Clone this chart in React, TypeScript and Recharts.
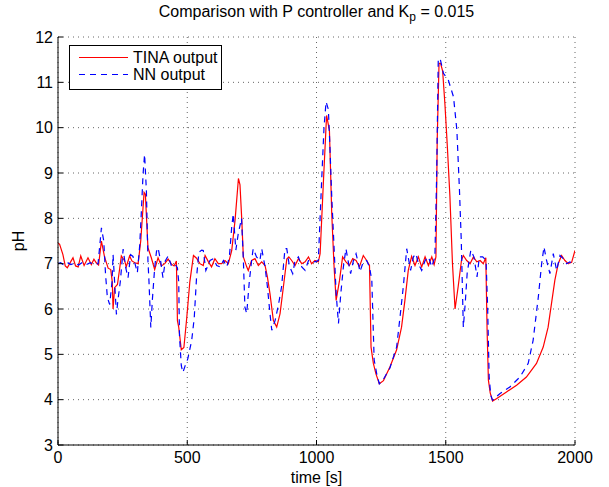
import React from "react";
import {
  CartesianGrid,
  Line,
  LineChart,
  XAxis,
  YAxis,
} from "recharts";

// TINA output (red, solid)
const tinaTime = [
  0, 6, 19, 28, 36, 45, 58, 68, 78, 88, 101, 116, 129, 139, 148, 157, 168, 180,
  194, 204, 210, 213, 219, 230, 239, 245, 258, 264, 277, 286, 297, 310, 320, 333,
  338, 348, 361, 374, 387, 400, 413, 426, 439, 449, 458, 462, 467, 477, 487, 498,
  510, 524, 536, 549, 562, 569, 582, 594, 607, 620, 633, 646, 659, 672, 685, 698,
  704, 711, 717, 730, 736, 749, 762, 775, 788, 801, 810, 820, 833, 846, 859, 872,
  885, 893, 904, 917, 930, 943, 956, 969, 981, 994, 1007, 1014, 1027, 1039, 1050,
  1059, 1068, 1076, 1089, 1101, 1114, 1127, 1140, 1153, 1166, 1181, 1194, 1205,
  1211, 1220, 1230, 1243, 1259, 1284, 1310, 1329, 1342, 1355, 1368, 1381, 1394,
  1407, 1420, 1433, 1446, 1455, 1462, 1467, 1474, 1480, 1488, 1497, 1506, 1516,
  1526, 1536, 1548, 1561, 1568, 1581, 1594, 1607, 1620, 1633, 1645, 1655, 1660,
  1665, 1672, 1681, 1696, 1735, 1774, 1812, 1851, 1877, 1896, 1909, 1922, 1935,
  1948, 1961, 1974, 1987, 2000,
];
const tinaPH = [
  7.45, 7.43, 7.2, 6.95, 6.91, 7.0, 7.13, 6.95, 6.93, 7.17, 6.96, 7.13, 6.98, 7.1,
  7.02, 6.97, 7.5, 7.15, 6.9, 6.87, 6.6, 6.0, 6.47, 6.54, 6.91, 7.17, 7.06, 6.93,
  7.17, 7.06, 7.02, 7.0, 7.5, 8.57, 8.53, 7.35, 7.13, 6.87, 7.13, 6.95, 7.0, 7.1,
  6.99, 6.95, 7.06, 5.74, 5.6, 5.1, 5.15, 5.8, 6.6, 7.18, 7.12, 7.0, 6.96, 7.18,
  7.04, 6.93, 7.11, 7.0, 7.0, 7.07, 7.0, 7.29, 7.96, 8.88, 8.74, 7.96, 7.15, 6.93,
  6.85, 7.07, 7.11, 6.96, 7.04, 6.96, 6.71, 6.34, 5.75, 5.6, 5.9, 6.49, 7.1, 7.15,
  7.07, 6.96, 7.11, 7.0, 7.04, 7.15, 7.0, 7.07, 7.04, 7.22, 8.84, 10.27, 9.94, 8.1,
  6.93, 6.19, 6.63, 7.15, 7.04, 6.96, 7.11, 7.07, 6.93, 7.18, 7.07, 6.96, 5.16,
  4.8, 4.57, 4.35, 4.42, 4.72, 5.1, 5.6, 6.19, 6.85, 7.16, 6.96, 7.15, 6.93, 7.15,
  6.96, 7.15, 6.98, 7.15, 9.73, 11.42, 11.42, 11.25, 10.5, 9.6, 8.5, 7.0, 6.0,
  6.49, 7.08, 7.18, 7.07, 7.0, 7.15, 7.04, 7.07, 7.0, 7.13, 5.53, 4.43, 4.15, 3.97,
  4.02, 4.17, 4.32, 4.5, 4.8, 5.16, 5.6, 6.12, 6.63, 7.0, 7.18, 7.07, 7.0, 7.03,
  7.29,
];

// NN output (blue, dashed)
const nnTime = [
  0, 10, 20, 35, 50, 65, 80, 95, 110, 125, 140, 155, 168, 177, 184, 191, 200, 209,
  213, 219, 226, 232, 241, 252, 262, 271, 281, 290, 297, 307, 316, 322, 329, 335,
  342, 348, 352, 359, 365, 374, 381, 387, 397, 406, 415, 426, 439, 452, 462, 467,
  470, 477, 483, 492, 502, 517, 527, 536, 545, 556, 562, 572, 588, 601, 614, 627,
  640, 653, 663, 672, 678, 688, 697, 710, 717, 723, 730, 740, 749, 755, 768, 781,
  788, 801, 810, 820, 827, 840, 853, 865, 878, 885, 895, 908, 917, 930, 943, 956,
  969, 981, 994, 1007, 1020, 1029, 1037, 1046, 1052, 1059, 1068, 1076, 1085, 1094,
  1104, 1114, 1123, 1132, 1143, 1153, 1162, 1168, 1181, 1194, 1205, 1214, 1223,
  1233, 1243, 1259, 1284, 1310, 1323, 1336, 1349, 1364, 1375, 1385, 1394, 1407,
  1420, 1433, 1446, 1458, 1465, 1471, 1478, 1491, 1510, 1530, 1543, 1553, 1560,
  1568, 1575, 1583, 1597, 1609, 1621, 1630, 1643, 1656, 1662, 1668, 1674, 1681,
  1709, 1748, 1787, 1819, 1838, 1858, 1871, 1880, 1890, 1903, 1916, 1929, 1942,
  1955, 1968, 1980, 1993, 2000,
];
const nnPH = [
  7.0, 7.02, 6.98, 7.03, 6.98, 7.02, 6.97, 7.03, 6.98, 7.02, 6.98, 7.0, 7.79, 7.5,
  6.76, 6.25, 6.1, 6.6, 7.2, 6.6, 5.88, 6.2, 6.6, 7.32, 6.91, 6.69, 7.2, 7.16, 7.02,
  6.8, 7.4, 8.09, 8.97, 9.41, 8.6, 7.06, 6.6, 5.59, 6.2, 6.91, 7.27, 7.35, 7.06,
  6.69, 7.06, 7.17, 6.95, 6.99, 6.91, 6.6, 5.4, 4.75, 4.6, 4.75, 4.9, 5.3, 5.8, 6.7,
  7.25, 7.3, 7.29, 6.85, 7.07, 7.11, 6.96, 6.93, 7.07, 6.93, 7.15, 7.81, 8.1, 7.3,
  7.65, 8.0, 7.1, 6.04, 5.9, 6.6, 7.07, 7.33, 7.15, 7.07, 7.33, 6.93, 6.5, 5.9, 5.53,
  5.75, 6.1, 6.49, 7.33, 7.33, 6.95, 6.78, 7.07, 7.15, 6.93, 6.85, 7.07, 7.07, 7.04,
  7.07, 8.84, 10.0, 10.57, 10.4, 9.57, 8.47, 7.35, 6.34, 5.68, 6.34, 6.93, 7.33,
  7.04, 6.78, 7.07, 7.22, 7.0, 6.82, 7.04, 7.07, 6.93, 6.63, 4.88, 4.57, 4.35, 4.45,
  4.7, 5.16, 5.82, 6.5, 7.33, 6.85, 7.15, 7.22, 7.0, 6.85, 7.07, 7.15, 6.93, 7.15,
  8.99, 11.5, 11.53, 11.2, 11.05, 10.68, 9.95, 8.63, 7.52, 5.6, 6.1, 6.8, 7.3, 7.15,
  6.71, 7.15, 7.15, 7.07, 6.04, 4.5, 4.1, 3.99, 4.13, 4.28, 4.5, 4.8, 5.31, 6.26,
  7.0, 7.37, 7.07, 6.78, 7.22, 6.85, 7.18, 7.11, 7.0, 7.04, 7.0, 7.02,
];

const xTicks = [0, 500, 1000, 1500, 2000];
const yTicks = [3, 4, 5, 6, 7, 8, 9, 10, 11, 12];

const tinaData = tinaTime.map((t, i) => ({ t, ph: tinaPH[i] }));
const nnData = nnTime.map((t, i) => ({ t, ph: nnPH[i] }));

const FONT = "'Liberation Sans', Arial, Helvetica, sans-serif";
const tickStyle = { fill: "#000", fontSize: 16, fontFamily: FONT };

const legendRows = [
  { name: "TINA output", color: "#ff0000", dash: undefined },
  { name: "NN output", color: "#0000ff", dash: "6 5" },
];

function LegendBox() {
  return (
    <div
      style={{
        position: "absolute",
        left: 69,
        top: 45,
        width: 153,
        height: 45,
        border: "1px solid #000",
        background: "#fff",
        fontFamily: FONT,
        fontSize: 16,
        boxSizing: "border-box",
        paddingTop: 3,
      }}
    >
      {legendRows.map((r) => (
        <div
          key={r.name}
          style={{ display: "flex", alignItems: "center", height: 17 }}
        >
          <svg width={62} height={17}>
            <line
              x1={9}
              x2={58}
              y1={8.5}
              y2={8.5}
              stroke={r.color}
              strokeWidth={1.2}
              strokeDasharray={r.dash}
            />
          </svg>
          <span style={{ marginLeft: 1 }}>{r.name}</span>
        </div>
      ))}
    </div>
  );
}

export default function App() {
  return (
    <div
      style={{
        position: "absolute",
        left: 0,
        top: 0,
        width: 609,
        height: 487,
        background: "#fff",
      }}
    >
      <div
        style={{
          position: "absolute",
          left: 58,
          width: 517,
          top: 3,
          textAlign: "center",
          fontFamily: FONT,
          fontSize: 16,
          lineHeight: "18px",
        }}
      >
        Comparison with P controller and K
        <sub style={{ fontSize: 12, verticalAlign: -4 }}>p</sub> = 0.015
      </div>
      <LineChart
        width={609}
        height={487}
        margin={{ top: 37, right: 34, bottom: 0, left: 0 }}
      >
        <CartesianGrid
          stroke="#666"
          strokeDasharray="1 4"
          strokeWidth={1}
          horizontalValues={yTicks}
          verticalValues={xTicks}
        />
        <XAxis
          dataKey="t"
          type="number"
          domain={[0, 2000]}
          ticks={xTicks}
          allowDataOverflow
          height={42}
          tickSize={-5}
          tickMargin={12}
          tick={tickStyle}
          axisLine={{ stroke: "#000" }}
          tickLine={{ stroke: "#000" }}
          label={{
            value: "time [s]",
            position: "insideBottom",
            offset: 4,
            style: { fill: "#000", fontSize: 16, fontFamily: FONT },
          }}
        />
        <XAxis
          xAxisId="top"
          orientation="top"
          type="number"
          domain={[0, 2000]}
          ticks={xTicks}
          allowDataOverflow
          height={0}
          mirror
          tickSize={5}
          tick={false}
          axisLine={{ stroke: "#000" }}
          tickLine={{ stroke: "#000" }}
        />
        <YAxis
          type="number"
          domain={[3, 12]}
          ticks={yTicks}
          allowDataOverflow
          width={58}
          tickSize={-5}
          tickMargin={10}
          tick={tickStyle}
          axisLine={{ stroke: "#000" }}
          tickLine={{ stroke: "#000" }}
          label={{
            value: "pH",
            content: (props: any) => {
              const vb = props.viewBox;
              const cx = vb.x + 18;
              const cy = vb.y + vb.height / 2;
              return (
                <text
                  x={cx}
                  y={cy}
                  transform={`rotate(-90, ${cx}, ${cy})`}
                  textAnchor="middle"
                  dominantBaseline="central"
                  fill="#000"
                  fontSize={16}
                  fontFamily={FONT}
                >
                  pH
                </text>
              );
            },
          }}
        />
        <YAxis
          yAxisId="right"
          orientation="right"
          type="number"
          domain={[3, 12]}
          ticks={yTicks}
          allowDataOverflow
          width={0}
          mirror
          tickSize={5}
          tick={false}
          axisLine={{ stroke: "#000" }}
          tickLine={{ stroke: "#000" }}
        />
        <Line
          data={tinaData}
          dataKey="ph"
          name="TINA output"
          type="linear"
          stroke="#ff0000"
          strokeWidth={1.2}
          dot={false}
          activeDot={false}
          isAnimationActive={false}
        />
        <Line
          data={nnData}
          dataKey="ph"
          name="NN output"
          type="linear"
          stroke="#0000ff"
          strokeWidth={1.2}
          strokeDasharray="6 5"
          dot={false}
          activeDot={false}
          isAnimationActive={false}
        />
      </LineChart>
      <LegendBox />
    </div>
  );
}
